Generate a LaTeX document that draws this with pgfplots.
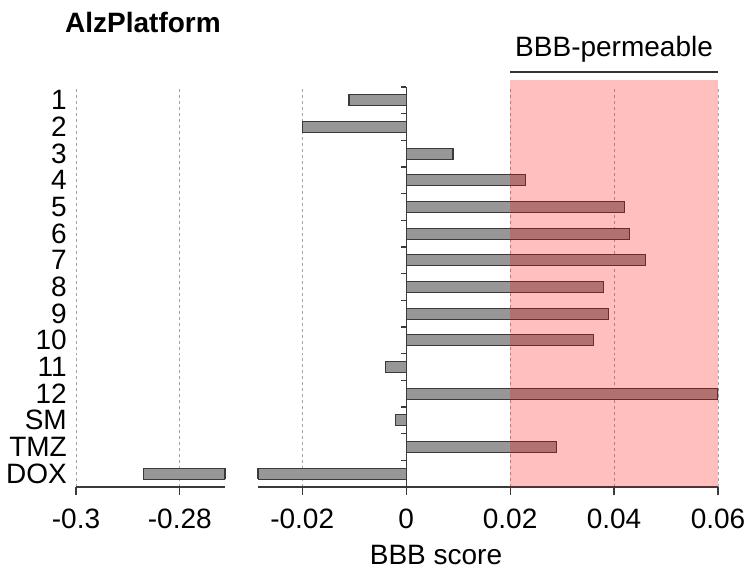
\documentclass[border=0pt]{standalone}
\usepackage{fontspec}
\setmainfont{Liberation Sans}
\usepackage{pgfplots}
\usepackage{pgfplotstable}
\pgfplotsset{compat=1.18}
\definecolor{barfill}{RGB}{151,151,151}
\definecolor{bardraw}{RGB}{58,58,58}
\definecolor{gridc}{RGB}{165,165,165}

\pgfplotstableread{
y val
15 -0.011
14 -0.020
13 0.009
12 0.023
11 0.042
10 0.043
9 0.046
8 0.038
7 0.039
6 0.036
5 -0.004
4 0.060
3 -0.002
2 0.029
1 -0.287
}\datatable

\tikzset{ytk/.style={draw=bardraw, line width=1.2bp}}

\begin{document}
\begin{tikzpicture}[font=\fontsize{28bp}{32bp}\selectfont]
\path (0,0) rectangle (750bp,571bp);
\pgfplotsset{
  common/.style={
    scale only axis, height=400bp, ymin=0.5, ymax=15.5,
    anchor=south west,
    axis lines*=left,
    y axis line style={draw=none},
    x axis line style={draw=bardraw, line width=1.2bp},
    xtick align=outside,
    major tick length=8bp,
    x tick style={draw=bardraw, line width=1.2bp},
    xmajorgrids,
    major grid style={dashed, gridc, line width=0.8bp},
    scaled x ticks=false,
    /pgf/number format/assume math mode=true,
    xticklabel style={anchor=base, yshift=-34bp},
    clip mode=individual,
  },
  barst/.style={xbar, bar width=11bp, fill=barfill, draw=bardraw, line width=1.2bp},
}
\begin{axis}[common, at={(76bp,84bp)}, width=149bp, xmin=-0.3, xmax=-0.2713,
  xtick={-0.3,-0.28}, xticklabels={-0.3,-0.28},
  ytick={1,...,15}, yticklabels={DOX,TMZ,SM,12,11,10,9,8,7,6,5,4,3,2,1},
  y tick style={draw=none},
  yticklabel style={anchor=east, inner sep=0pt, xshift=-9bp}]
\addplot[barst] coordinates {(-0.287,1)};
\draw[ytk] (axis cs:-0.2713,0.794) -- (axis cs:-0.2713,1.206);
\end{axis}
\begin{axis}[common, at={(258bp,84bp)}, width=460bp, xmin=-0.0285, xmax=0.06,
  xtick={-0.02,0,0.02,0.04,0.06}, xticklabels={-0.02,0,0.02,0.04,0.06},
  ytick=\empty]
\addplot[barst] table[x=val,y=y] {\datatable};
\draw[ytk] (axis cs:0,0.5) -- (axis cs:0,15.5);
\draw[ytk] (axis cs:-0.00096,15.5) -- (axis cs:0,15.5);
\draw[ytk] (axis cs:-0.00096,14.5) -- (axis cs:0,14.5);
\draw[ytk] (axis cs:-0.00096,13.5) -- (axis cs:0,13.5);
\draw[ytk] (axis cs:-0.00096,12.5) -- (axis cs:0,12.5);
\draw[ytk] (axis cs:-0.00096,11.5) -- (axis cs:0,11.5);
\draw[ytk] (axis cs:-0.00096,10.5) -- (axis cs:0,10.5);
\draw[ytk] (axis cs:-0.00096,9.5) -- (axis cs:0,9.5);
\draw[ytk] (axis cs:-0.00096,8.5) -- (axis cs:0,8.5);
\draw[ytk] (axis cs:-0.00096,7.5) -- (axis cs:0,7.5);
\draw[ytk] (axis cs:-0.00096,6.5) -- (axis cs:0,6.5);
\draw[ytk] (axis cs:-0.00096,5.5) -- (axis cs:0,5.5);
\draw[ytk] (axis cs:-0.00096,4.5) -- (axis cs:0,4.5);
\draw[ytk] (axis cs:-0.00096,3.5) -- (axis cs:0,3.5);
\draw[ytk] (axis cs:-0.00096,2.5) -- (axis cs:0,2.5);
\draw[ytk] (axis cs:-0.00096,1.5) -- (axis cs:0,1.5);
\draw[ytk] (axis cs:-0.0285,0.794) -- (axis cs:-0.0285,1.206);
\fill[red, fill opacity=0.25] (axis cs:0.02,0.5) rectangle (axis cs:0.06,15.76);
\draw[black!80, line width=1.2bp] (axis cs:0.02,16.06) -- (axis cs:0.06,16.06);
\node[anchor=base] at (axis cs:0.04,16.625) {BBB-permeable};
\end{axis}
\node[anchor=base west, inner sep=0pt, font=\fontsize{28bp}{32bp}\selectfont\bfseries] at (65bp,538bp) {AlzPlatform};
\node[anchor=base] at (436bp,7bp) {BBB score};
\end{tikzpicture}
\end{document}
